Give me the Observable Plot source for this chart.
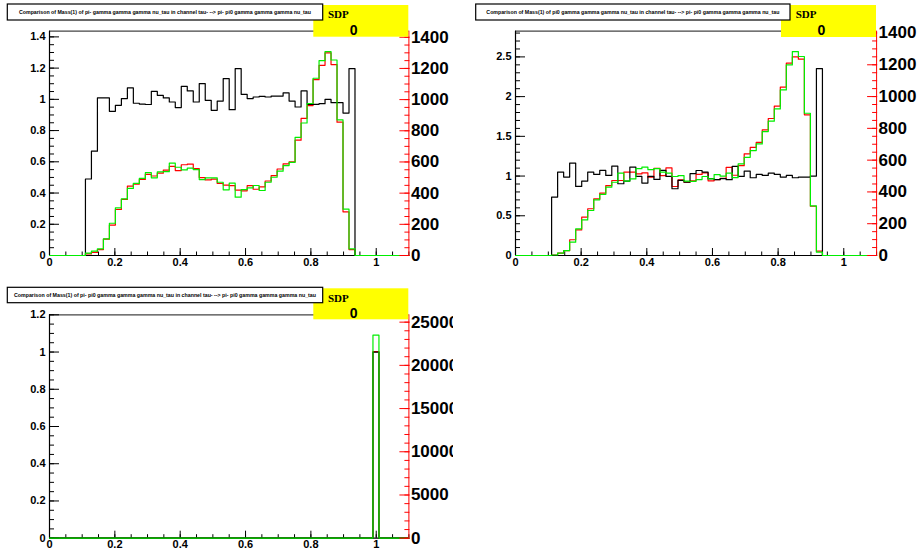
<!DOCTYPE html>
<html><head><meta charset="utf-8">
<script src="https://cdn.jsdelivr.net/npm/d3@7"></script>
<script src="https://cdn.jsdelivr.net/npm/@observablehq/plot@0.6"></script>
<style>
html,body{margin:0;padding:0;background:#fff;}
#page{position:relative;width:922px;height:551px;overflow:hidden;background:#fff;}
.pad{position:absolute;overflow:hidden;}
.pad svg{position:absolute;left:0;top:0;}
#overlay{position:absolute;left:0;top:0;}
</style></head><body><div id="page"></div>
<script>
// ---- histogram binning (60 bins over [0, 1.1]) ----
const xMin = 0, xMax = 1.1, nBins = 60;

// ---- panel 1: Mass(1) of pi- gamma gamma gamma nu_tau ----
const ratio1 = [0,0,0,0,0,0,
  0.49,0.668,1.009,1.009,0.923, 0.962,1.005,1.073,0.975,0.970,
  0.967,1.051,1.026,1.009,0.983, 0.947,1.083,1.054,0.983,1.101,
  0.994,0.930,0.989,1.133,0.934, 1.197,1.032,1.005,1.015,1.019,
  1.015,1.021,1.021,1.041,0.989, 0.951,1.054,0.968,0.968,0.972,
  1.0,0.979,0.979,0.912,1.197, 0,0,0,0,0,0,0,0,0];
const red1 = [0,0,0,0,0,0,
  10,20,38,105,195, 295,360,445,458,488,
  520,510,528,548,572, 545,582,586,558,500,
  485,490,462,452,448, 420,415,448,425,440,
  478,512,555,588,600, 740,880,962,1128,1220,
  1300,1225,855,280,38, 0,0,0,0,0,0,0,0,0];
const green1 = [0,0,0,0,0,0,
  15,28,43,107,207, 306,363,430,463,495,
  531,498,536,538,592, 566,549,560,551,487,
  498,498,470,421,464, 374,423,434,449,417,
  470,502,541,577,598, 758,850,975,1137,1250,
  1308,1254,870,297,43, 0,0,0,0,0,0,0,0,0];

// ---- panel 2: Mass(1) of pi0 gamma gamma gamma nu_tau ----
const ratio2 = [0,0,0,0,0,0,
  0.735,1.05,0.987,1.164,0.87, 0.937,1.05,1.021,1.071,1.008,
  1.126,0.903,0.937,1.113,0.996, 0.912,0.996,0.958,1.071,0.996,
  0.84,0.945,0.924,1.03,1.07, 1.05,0.967,0.954,0.967,0.954,
  1.122,0.996,1.063,0.979,1.021, 1.008,1.037,1.021,0.987,1.008,
  0.979,0.987,0.987,1.0,2.353, 0,0,0,0,0,0,0,0,0];
const red2 = [0,0,0,0,0,0,
  3,15,31,99,161, 241,294,356,392,440,
  472,472,524,524,513, 520,493,549,503,551,
  434,476,461,470,510, 520,470,478,485,555,
  505,565,640,680,712, 790,862,940,1060,1210,
  1250,1235,885,310,27, 0,0,0,0,0,0,0,0,0];
const green2 = [0,0,0,0,0,0,
  3,15,31,84,168, 224,283,350,384,430,
  461,518,468,482,546, 556,540,546,524,518,
  497,503,468,467,478, 497,482,509,499,518,
  490,577,618,660,702, 780,845,922,1042,1199,
  1283,1252,895,312,21, 0,0,0,0,0,0,0,0,0];

// ---- panel 3: Mass(1) of pi- pi0 gamma gamma gamma nu_tau ----
const ratio3 = [0,0,0,0,0,0,0,0,0,0, 0,0,0,0,0,0,0,0,0,0,
  0,0,0,0,0,0,0,0,0,0, 0,0,0,0,0,0,0,0,0,0,
  0,0,0,0,0,0,0,0,0,0, 0,0,0,0,1.0,0,0,0,0,0];
const red3 = [0,0,0,0,0,0,0,0,0,0, 0,0,0,0,0,0,0,0,0,0,
  0,0,0,0,0,0,0,0,0,0, 0,0,0,0,0,0,0,0,0,0,
  0,0,0,0,0,0,0,0,0,0, 0,0,0,0,21600,0,0,0,0,0];
const green3 = [0,0,0,0,0,0,0,0,0,0, 0,0,0,0,0,0,0,0,0,0,
  0,0,0,0,0,0,0,0,0,0, 0,0,0,0,0,0,0,0,0,0,
  0,0,0,0,0,0,0,0,0,0, 0,0,0,0,23500,0,0,0,0,0];

// ---- tick labels ----
const xTicks = [0, 0.2, 0.4, 0.6, 0.8, 1];
const leftTicks1 = [0, 0.2, 0.4, 0.6, 0.8, 1, 1.2, 1.4];
const leftTicks2 = [0, 0.5, 1, 1.5, 2, 2.5];
const leftTicks3 = [0, 0.2, 0.4, 0.6, 0.8, 1, 1.2];
const rightTicks1 = [0, 200, 400, 600, 800, 1000, 1200, 1400];
const rightTicks2 = [0, 200, 400, 600, 800, 1000, 1200, 1400];
const rightTicks3 = [0, 5000, 10000, 15000, 20000, 25000];

// ---- titles ----
const titles = [
  "Comparison of Mass(1) of pi- gamma gamma gamma nu_tau in channel tau- --> pi- pi0 gamma gamma gamma nu_tau",
  "Comparison of Mass(1) of pi0 gamma gamma gamma nu_tau in channel tau- --> pi- pi0 gamma gamma gamma nu_tau",
  "Comparison of Mass(1) of pi- pi0 gamma gamma gamma nu_tau in channel tau- --> pi- pi0 gamma gamma gamma nu_tau"
];
const statLabel = "SDP";
const statValues = ["0", "0", "0"];

// ---------------------------------------------------------------
const SANS = "'Liberation Sans', Arial, Helvetica, sans-serif";
const page = document.getElementById("page");

function steps(vals) {
  return d3.range(nBins + 1).map(i => ({
    x: xMin + i * (xMax - xMin) / nBins,
    y: vals[Math.min(i, nBins - 1)]
  }));
}
function minorRange(top, step) {
  return d3.range(0, top + 1e-9, step).map(v => +v.toFixed(4));
}

function panel(p) {
  const div = document.createElement("div");
  div.className = "pad";
  Object.assign(div.style, {left: p.left + "px", top: p.top + "px", width: p.width + "px", height: p.height + "px"});
  page.appendChild(div);

  const rTop = 1.2 * d3.max(p.ratio);
  const cTop = 1.1 * d3.max(p.red.concat(p.green));
  const base = {
    width: p.width, height: p.height,
    marginLeft: p.mL, marginRight: p.mR, marginTop: p.mT, marginBottom: p.mB,
    style: {background: "transparent", overflow: "visible", maxWidth: "none",
            fontFamily: SANS, fontWeight: "bold", fontSize: "11px", color: "#000"}
  };
  const fmt = d => String(d);
  const blank = () => "";

  // layer 1: red counts histogram (right scale)
  div.appendChild(Plot.plot({
    ...base,
    x: {domain: [xMin, xMax], axis: null},
    y: {domain: [0, cTop], axis: null},
    marks: [
      Plot.line(steps(p.red), {x: "x", y: "y", curve: "step-after", stroke: "#ff0000", strokeWidth: 1.2})
    ]
  }));

  // layer 2: ratio histogram (left scale) + frame + x axis
  div.appendChild(Plot.plot({
    ...base,
    x: {domain: [xMin, xMax]},
    y: {domain: [0, rTop]},
    marks: [
      Plot.ruleY([rTop], {stroke: "#444", strokeWidth: 1.2}),
      Plot.ruleX([xMin], {stroke: "#000", strokeWidth: 1.2}),
      Plot.ruleY([0], {stroke: "#000", strokeWidth: 1.2}),
      Plot.line(steps(p.ratio), {x: "x", y: "y", curve: "step-after", stroke: "#000", strokeWidth: 1.2}),
      Plot.axisY(minorRange(rTop, p.rMinor), {anchor: "left", tickSize: -5, tickFormat: blank, label: null}),
      Plot.axisY(p.rTicks, {anchor: "left", tickSize: -10, tickFormat: blank, label: null}),
      Plot.axisY(p.rTicks, {anchor: "left", tickSize: 0, tickPadding: 4, tickFormat: fmt, label: null}),
      Plot.axisX(minorRange(xMax, 0.05), {anchor: "bottom", tickSize: -3.5, tickFormat: blank, label: null}),
      Plot.axisX(xTicks, {anchor: "bottom", tickSize: 0.001, tickFormat: blank, label: null}),
      Plot.axisX(xTicks, {anchor: "bottom", tickSize: -7, tickFormat: blank, label: null}),
      Plot.axisX(xTicks, {anchor: "bottom", tickSize: 0, tickPadding: p.xPad, tickFormat: fmt, label: null})
    ]
  }));

  // layer 3: green counts histogram + right red axis
  div.appendChild(Plot.plot({
    ...base,
    x: {domain: [xMin, xMax], axis: null},
    y: {domain: [0, cTop]},
    marks: [
      Plot.line(steps(p.green), {x: "x", y: "y", curve: "step-after", stroke: "#00ee00", strokeWidth: 1.2}),
      Plot.ruleX([xMax], {stroke: "#ff0000", strokeWidth: 1}),
      Plot.axisY(minorRange(cTop, p.cMinor), {anchor: "right", tickSize: -5, tickFormat: blank, color: "#ff0000", label: null}),
      Plot.axisY(p.cTicks, {anchor: "right", tickSize: -10, tickFormat: blank, color: "#ff0000", label: null}),
      Plot.axisY(p.cTicks, {anchor: "right", tickSize: 0, tickPadding: 2, tickFormat: fmt, fill: "#000", fontSize: 17, label: null})
    ]
  }));
}

panel({left: 0, top: 0, width: 453, height: 276, mL: 49, mR: 44.6, mT: 30.7, mB: 21, xPad: 3,
       ratio: ratio1, red: red1, green: green1, rTicks: leftTicks1, rMinor: 0.05, cTicks: rightTicks1, cMinor: 50});
panel({left: 461, top: 0, width: 461, height: 276, mL: 54, mR: 45.9, mT: 30.7, mB: 21, xPad: 3,
       ratio: ratio2, red: red2, green: green2, rTicks: leftTicks2, rMinor: 0.1, cTicks: rightTicks2, cMinor: 50});
panel({left: 0, top: 276, width: 453, height: 275, mL: 49, mR: 44.6, mT: 38.3, mB: 13.3, xPad: 2,
       ratio: ratio3, red: red3, green: green3, rTicks: leftTicks3, rMinor: 0.05, cTicks: rightTicks3, cMinor: 1000});

// ---- title boxes and stat boxes ----
const boxes = [
  {tx: 7.3, ty: 4, tw: 315.4, th: 16, textW: 292, sx: 313.3, sy: 5, sw: 95, sh: 31.7},
  {tx: 475.7, ty: 4, tw: 314.3, th: 16, textW: 293, sx: 781, sy: 5, sw: 95, sh: 32},
  {tx: 7.3, ty: 287.3, tw: 315.4, th: 15.4, textW: 302, sx: 313.3, sy: 288.3, sw: 95, sh: 31}
];
const ov = d3.select(page).append("svg").attr("id", "overlay").attr("width", 922).attr("height", 551);
boxes.forEach((b, i) => {
  ov.append("rect").attr("x", b.sx).attr("y", b.sy).attr("width", b.sw).attr("height", b.sh).attr("fill", "#ffff00");
  ov.append("text").attr("x", b.sx + 14.7).attr("y", b.sy + 13.3)
    .attr("font-family", "'Liberation Serif', 'Times New Roman', serif").attr("font-weight", "bold").attr("font-size", 11)
    .attr("fill", "#000").text(statLabel);
  ov.append("text").attr("x", b.sx + 40.4).attr("y", b.sy + b.sh - 1.8).attr("text-anchor", "middle")
    .attr("font-family", SANS).attr("font-weight", "bold").attr("font-size", 14).attr("fill", "#000").text(statValues[i]);
  ov.append("rect").attr("x", b.tx).attr("y", b.ty).attr("width", b.tw).attr("height", b.th)
    .attr("fill", "#fff").attr("stroke", "#000").attr("stroke-width", 1.2);
  ov.append("text").attr("x", b.tx + b.tw / 2).attr("y", b.ty + b.th / 2 + 2)
    .attr("text-anchor", "middle").attr("font-family", SANS).attr("font-size", 6).attr("font-weight", "bold")
    .attr("textLength", b.textW).attr("lengthAdjust", "spacingAndGlyphs").attr("fill", "#000").text(titles[i]);
});
</script>
</body></html>
